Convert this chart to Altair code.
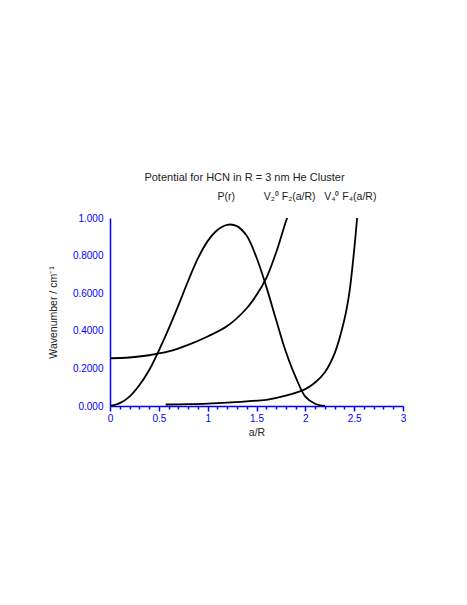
import altair as alt
import pandas as pd

# P(r)
p_x = [0.0, 0.1, 0.2, 0.3, 0.4, 0.5, 0.6, 0.7, 0.8, 0.9, 1.0, 1.1, 1.2, 1.3, 1.4, 1.5, 1.6, 1.7, 1.8, 1.9, 2.0, 2.1, 2.2]
p_y = [0.0, 0.015, 0.05, 0.11, 0.19, 0.295, 0.41, 0.535, 0.665, 0.785, 0.877, 0.936, 0.964, 0.957, 0.905, 0.79, 0.635, 0.46, 0.29, 0.155, 0.05, 0.012, 0.0]

# V2^0 F2(a/R)
v2_x = [0.0, 0.2, 0.4, 0.6, 0.8, 1.0, 1.2, 1.4, 1.5, 1.6, 1.7, 1.8, 1.815]
v2_y = [0.254, 0.258, 0.27, 0.29, 0.325, 0.37, 0.425, 0.52, 0.59, 0.68, 0.815, 0.98, 1.0]

# V4^0 F4(a/R)
v4_x = [0.57, 0.8, 1.0, 1.2, 1.4, 1.6, 1.8, 2.0, 2.1, 2.2, 2.3, 2.4, 2.45, 2.5, 2.53]
v4_y = [0.008, 0.01, 0.013, 0.018, 0.025, 0.033, 0.055, 0.09, 0.125, 0.18, 0.28, 0.46, 0.6, 0.83, 1.0]

label_text = ["P(r)", "V₂⁰ F₂(a/R)", "V₄⁰ F₄(a/R)"]
label_x = [1.19, 1.84, 2.46]
label_y = [1.11, 1.11, 1.11]

x_tick_values = [round(i * 0.1, 1) for i in range(31)]
y_tick_values = [0.0, 0.2, 0.4, 0.6, 0.8, 1.0]

rows = []
for name, xs, ys in [("P", p_x, p_y), ("V2", v2_x, v2_y), ("V4", v4_x, v4_y)]:
    for i, (a, b) in enumerate(zip(xs, ys)):
        rows.append({"series": name, "x": a, "y": b, "order": i})
df = pd.DataFrame(rows)
labels = pd.DataFrame({"text": label_text, "x": label_x, "y": label_y})

FONT = "Liberation Sans"
BLUE = "#0000ff"
major = "abs(datum.value*2 - round(datum.value*2)) < 0.001"

x_scale = alt.Scale(domain=[0, 3], nice=False, zero=False)
y_scale = alt.Scale(domain=[0, 1], nice=False)

x_axis = alt.Axis(
    title="a/R", values=x_tick_values, format="~g",
    labelExpr=f"{major} ? datum.label : ''",
    tickSize={"condition": {"test": major, "value": 5}, "value": 3},
    labelOverlap=False, labelFlush=False, grid=False, domainColor=BLUE, tickColor=BLUE,
    labelColor=BLUE, labelFont=FONT, labelFontSize=10, labelPadding=2,
    titleFont=FONT, titleFontSize=10.5, titleFontWeight="normal", titleColor="#222",
    titlePadding=4, domainWidth=1.5, tickWidth=1.5)
y_axis = alt.Axis(
    title="Wavenumber / cm⁻¹", values=y_tick_values, ticks=False, grid=False,
    labelOverlap=False, labelFlush=False,
    labelExpr="datum.value < 0.001 ? '0.000' : (datum.value > 0.999 ? '1.000' : format(datum.value, '.4f'))",
    domainColor=BLUE, labelColor=BLUE, labelFont=FONT, labelFontSize=10, labelPadding=7,
    titleFont=FONT, titleFontSize=10.5, titleFontWeight="normal", titleColor="#222",
    titlePadding=14, domainWidth=1.5)

lines = alt.Chart(df).mark_line(color="black", strokeWidth=1.8, interpolate="catmull-rom", clip=True).encode(
    x=alt.X("x:Q", scale=x_scale, axis=x_axis),
    y=alt.Y("y:Q", scale=y_scale, axis=y_axis),
    detail="series:N",
    order="order:Q",
)

texts = alt.Chart(labels).mark_text(font=FONT, fontSize=10.5, color="#222", clip=False).encode(
    x=alt.X("x:Q", scale=x_scale, axis=x_axis),
    y=alt.Y("y:Q", scale=y_scale, axis=y_axis),
    text="text:N",
)

chart = alt.layer(lines, texts).properties(
    width=293, height=188,
    title=alt.TitleParams("Potential for HCN in R = 3 nm He Cluster", anchor="start", dx=96,
                          font=FONT, fontSize=11, fontWeight="normal", color="#222",
                          baseline="bottom", offset=-2),
    autosize=alt.AutoSizeParams(type="none"),
    padding={"left": 102, "top": 210, "right": 50, "bottom": 180},
).configure(background="white").configure_view(stroke=None)

chart.save("out.html", embed_options={"renderer": "svg", "actions": False})
